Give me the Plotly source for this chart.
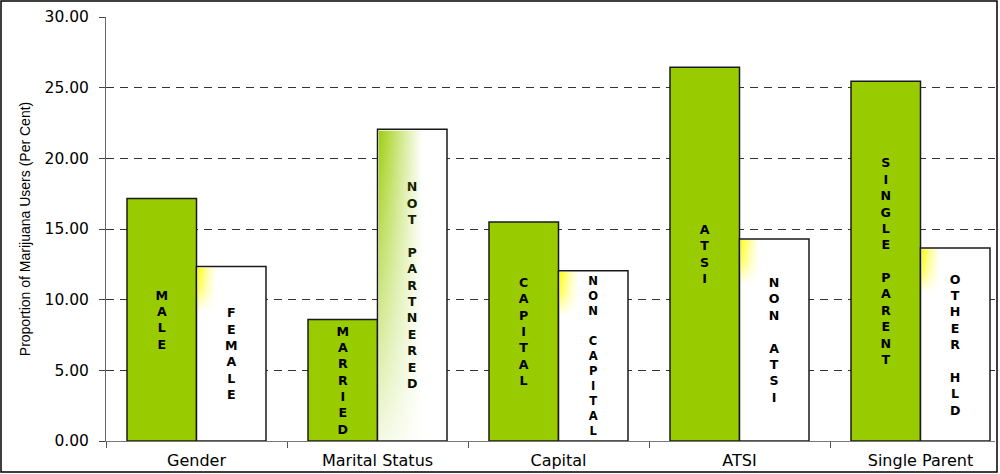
import base64
import plotly.graph_objects as go

categories = ["Gender", "Marital Status", "Capital", "ATSI", "Single Parent"]
group_a_labels = ["MALE", "MARRIED", "CAPITAL", "ATSI", "SINGLE PARENT"]
group_b_labels = ["FEMALE", "NOT PARTNERED", "NON CAPITAL", "NON ATSI", "OTHER HLD"]
group_a_values = [17.15, 8.6, 15.5, 26.45, 25.45]
group_b_values = [12.35, 22.05, 12.05, 14.3, 13.65]
y_ticks = [0, 5, 10, 15, 20, 25, 30]
y_title = "Proportion of Marijuana Users (Per Cent)"

W, H = 1000, 474
ML, MR, MT, MB = 106, 5, 17, 33
PW, PH = W - ML - MR, H - MT - MB
BARGAP = 0.232
BW = (1 - BARGAP) / 2
CAT_PX = 181.0
XMAX = -0.5 + PW / CAT_PX


def stack(s):
    return "<br>".join(ch if ch != " " else "\u00a0" for ch in s)


def svg_uri(svg):
    return "data:image/svg+xml;base64," + base64.b64encode(svg.encode()).decode()


green_svg = svg_uri(
    "<svg xmlns='http://www.w3.org/2000/svg' width='100' height='400' viewBox='0 0 100 400' preserveAspectRatio='none'>"
    "<defs>"
    "<linearGradient id='h' x1='0' y1='0' x2='1' y2='0'>"
    "<stop offset='0' stop-color='#99CC00' stop-opacity='0.95'/>"
    "<stop offset='0.3' stop-color='#99CC00' stop-opacity='0.5'/>"
    "<stop offset='0.65' stop-color='#99CC00' stop-opacity='0'/>"
    "</linearGradient>"
    "<linearGradient id='v' x1='0' y1='0' x2='0' y2='1'>"
    "<stop offset='0' stop-color='white' stop-opacity='1'/>"
    "<stop offset='1' stop-color='white' stop-opacity='0.12'/>"
    "</linearGradient>"
    "<mask id='m'><rect width='100' height='400' fill='url(#v)'/></mask>"
    "</defs>"
    "<rect width='100' height='400' fill='url(#h)' mask='url(#m)'/>"
    "</svg>"
)

yellow_svg = svg_uri(
    "<svg xmlns='http://www.w3.org/2000/svg' width='20' height='45' viewBox='0 0 20 45' preserveAspectRatio='none'>"
    "<defs>"
    "<linearGradient id='h' x1='0' y1='0' x2='1' y2='0'>"
    "<stop offset='0' stop-color='#FFFF00' stop-opacity='1'/>"
    "<stop offset='0.4' stop-color='#FFFF33' stop-opacity='0.6'/>"
    "<stop offset='1' stop-color='#FFFF66' stop-opacity='0'/>"
    "</linearGradient>"
    "<linearGradient id='v' x1='0' y1='0' x2='0' y2='1'>"
    "<stop offset='0' stop-color='white' stop-opacity='1'/>"
    "<stop offset='0.5' stop-color='white' stop-opacity='0.7'/>"
    "<stop offset='1' stop-color='white' stop-opacity='0'/>"
    "</linearGradient>"
    "<mask id='m'><rect width='20' height='45' fill='url(#v)'/></mask>"
    "</defs>"
    "<rect width='20' height='45' fill='url(#h)' mask='url(#m)'/>"
    "</svg>"
)

x = list(range(len(categories)))
fig = go.Figure()
text_font = dict(family="DejaVu Sans", size=12.6, color="black", weight="bold")
fig.add_bar(
    x=x, y=group_a_values, text=[stack(s) for s in group_a_labels],
    marker=dict(color="#99CC00", line=dict(color="#1a1a1a", width=1.5)),
    textposition="inside", insidetextanchor="middle", textangle=0,
    constraintext="inside", textfont=text_font, hoverinfo="y",
)
fig.add_bar(
    x=x, y=group_b_values, text=[stack(s) for s in group_b_labels],
    marker=dict(color="white", line=dict(color="#1a1a1a", width=1.5)),
    textposition="inside", insidetextanchor="middle", textangle=0,
    constraintext="inside", textfont=text_font, hoverinfo="y",
)

px_per_x = PW / (XMAX + 0.5)
px_per_y = PH / 30.0
images = []
for i, v in enumerate(group_b_values):
    if i == 1:
        images.append(dict(source=green_svg, xref="x", yref="y",
                           x=i + 1.0 / px_per_x, y=v - 1.0 / px_per_y,
                           sizex=BW - 2.0 / px_per_x, sizey=v - 2.0 / px_per_y,
                           xanchor="left", yanchor="top", sizing="stretch",
                           layer="above"))
    else:
        images.append(dict(source=yellow_svg, xref="x", yref="y",
                           x=i + 1.0 / px_per_x, y=v - 1.0 / px_per_y,
                           sizex=19.0 / px_per_x, sizey=44.0 / px_per_y,
                           xanchor="left", yanchor="top", sizing="stretch",
                           layer="above"))

fig.update_layout(
    width=W, height=H,
    margin=dict(l=ML, r=MR, t=MT, b=MB, autoexpand=False),
    barmode="group", bargap=BARGAP, bargroupgap=0,
    plot_bgcolor="white", paper_bgcolor="white",
    showlegend=False,
    images=images,
    xaxis=dict(
        range=[-0.5, XMAX], tickmode="array", tickvals=x, ticktext=categories,
        ticks="", showgrid=False, zeroline=False, automargin=False,
        showline=True, linecolor="#777", linewidth=1,
        tickfont=dict(family="DejaVu Sans", size=16, color="black"),
        ticklabelstandoff=5,
        minor=dict(tickmode="linear", tick0=-0.5, dtick=1, ticks="outside",
                   ticklen=6, tickcolor="#555", tickwidth=1, showgrid=False),
    ),
    yaxis=dict(
        range=[0, 30], tickmode="array", tickvals=y_ticks, tickformat=".2f",
        showgrid=True, gridcolor="#333", gridwidth=1, griddash="8px,6px",
        zeroline=False, showline=True, linecolor="#666", linewidth=1,
        ticks="outside", ticklen=6, tickcolor="#444", automargin=False,
        tickfont=dict(family="DejaVu Sans", size=15.5, color="black"),
        ticklabelstandoff=7,
        title=dict(text=y_title, font=dict(family="Liberation Sans", size=14, color="black"), standoff=10),
    ),
    yaxis2=dict(
        range=[0, 30], tickmode="array", tickvals=y_ticks, overlaying="y",
        anchor="x", side="left", ticks="inside", ticklen=6, tickcolor="#444",
        showticklabels=False, showgrid=False, zeroline=False, showline=False,
        automargin=False,
    ),
    shapes=[dict(type="rect", xref="paper", yref="paper",
                 x0=(1 - ML) / PW, x1=(997 - ML) / PW,
                 y0=(MT + PH - 472) / PH, y1=(MT + PH - 1) / PH,
                 line=dict(color="black", width=1.5), fillcolor="rgba(0,0,0,0)")],
)

fig.write_html("out.html", config={"displayModeBar": False},
               post_script="document.body.style.margin='0';document.body.style.overflow='hidden';")
